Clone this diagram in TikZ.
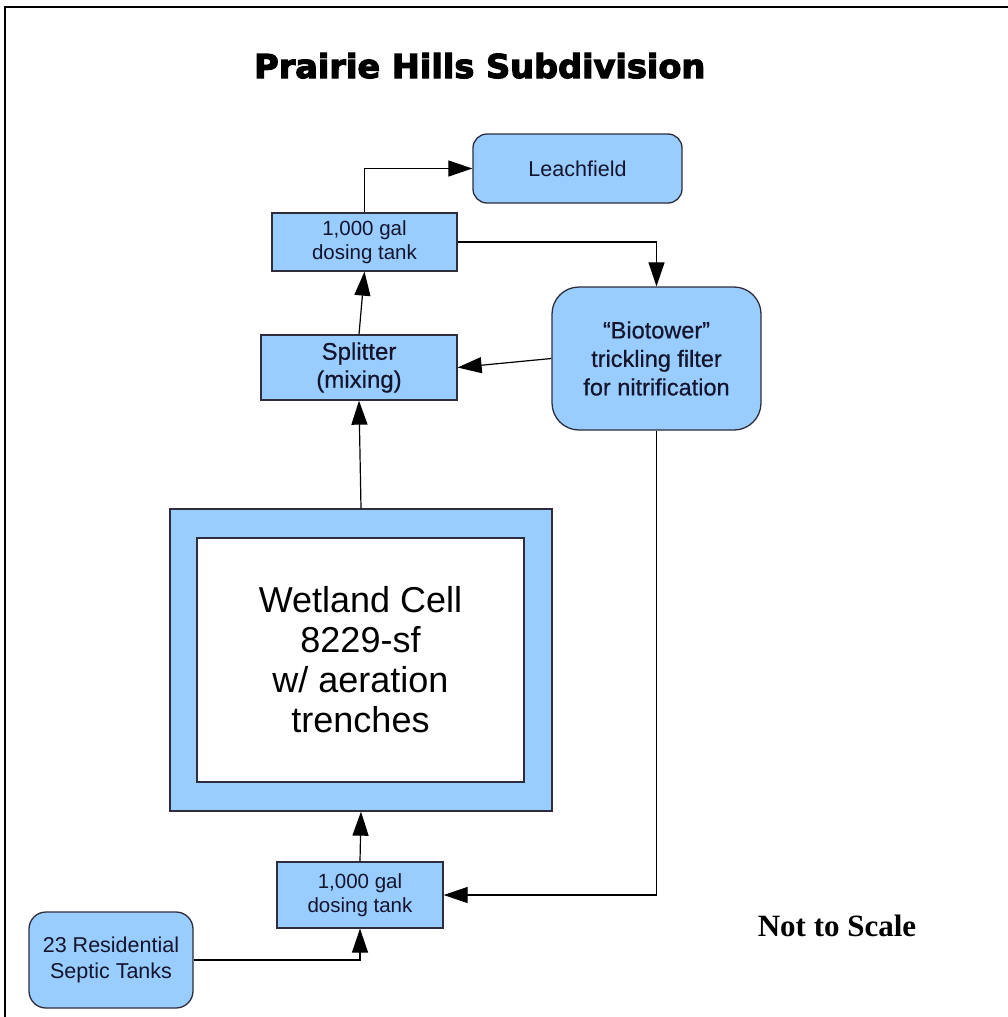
\documentclass[tikz,border=0pt]{standalone}
\usepackage{fontspec}
\setmainfont{Liberation Sans}
\newfontfamily\headfont{DejaVu Sans}[BoldFeatures={FakeBold=3.5}]
\newfontfamily\firmfont{Liberation Sans}[Ligatures=TeX, FakeBold=0.5]
\newfontfamily\notefont{Liberation Serif}

\usetikzlibrary{arrows.meta}

\definecolor{cellblue}{RGB}{153,204,255}
\definecolor{edgegray}{RGB}{45,45,60}
\definecolor{inkblue}{RGB}{20,20,45}

\begin{document}
\begin{tikzpicture}[x=1pt,y=-1pt,
  box/.style={draw=edgegray, line width=1.3pt, fill=cellblue, text=inkblue,
              align=center, inner sep=0pt},
  roundbox/.style={box, rounded corners=#1},
  flow/.style={draw=black, line width=1.2pt,
               -{Triangle[length=24pt,width=16pt]}},
  smalltext/.style={font=\fontsize{20.5}{24.5}\selectfont},
  midtext/.style={font=\firmfont\fontsize{23.5}{28.5}\selectfont}
]
\useasboundingbox (0,0) rectangle (1008,1017);

% page frame (top and left edges)
\draw[line width=1.5pt, black] (5,1017) -- (5,7) -- (1008,7);

% heading
\node[anchor=base west, inner sep=0pt] (title) at (254,78)
  {\resizebox{451pt}{25pt}{\headfont\bfseries Prairie Hills Subdivision}};

% process units
\node[roundbox=14pt, font=\fontsize{21.5}{25}\selectfont,
      minimum width=209pt, minimum height=69pt] (leach) at (577.5,168.5) {Leachfield};
\node[box, smalltext, minimum width=185pt, minimum height=58pt] (dose1) at (364.5,242)
  {1,000 gal\\dosing tank};
\node[box, font=\firmfont\fontsize{24}{28}\selectfont,
      minimum width=196pt, minimum height=65pt] (split) at (359,367.5)
  {Splitter\\(mixing)};
\node[roundbox=27pt, midtext, minimum width=209pt, minimum height=143pt] (bio) at (656.5,358.5)
  {“Biotower”\\trickling filter\\for nitrification};

% wetland cell: blue frame with white interior
\node[box, minimum width=382pt, minimum height=302pt] (wet) at (361,660) {};
\node[draw=edgegray, line width=1.3pt, fill=white, text=black, align=center,
      inner sep=0pt, minimum width=327pt, minimum height=244pt,
      font=\fontsize{36}{40}\selectfont] (wetin) at (360.5,660)
  {Wetland Cell\\8229-sf\\w/ aeration\\trenches};

\node[box, smalltext, minimum width=166pt, minimum height=66pt] (dose2) at (360,895)
  {1,000 gal\\dosing tank};
\node[roundbox=17pt, font=\fontsize{21.5}{26}\selectfont,
      minimum width=164pt, minimum height=96pt] (septic) at (111,960)
  {23 Residential\\Septic Tanks};

\node[font=\notefont\bfseries\fontsize{31}{36}\selectfont, inner sep=0pt] (scale) at (837,926)
  {Not to Scale};

% flow connections
\draw[flow] (septic.east) -| (dose2.south);
\draw[flow] (dose2.north) -- (wet.south);
\draw[flow] (wet.north) -- (split.south);
\draw[flow] (split.north) -- (dose1.south);
\draw[flow] (dose1.north) |- (leach.west);
\draw[flow] (dose1.east) -| (bio.north);
\draw[flow] (bio.west) -- (split.east);
\draw[flow] (bio.south) |- (dose2.east);
\end{tikzpicture}
\end{document}
